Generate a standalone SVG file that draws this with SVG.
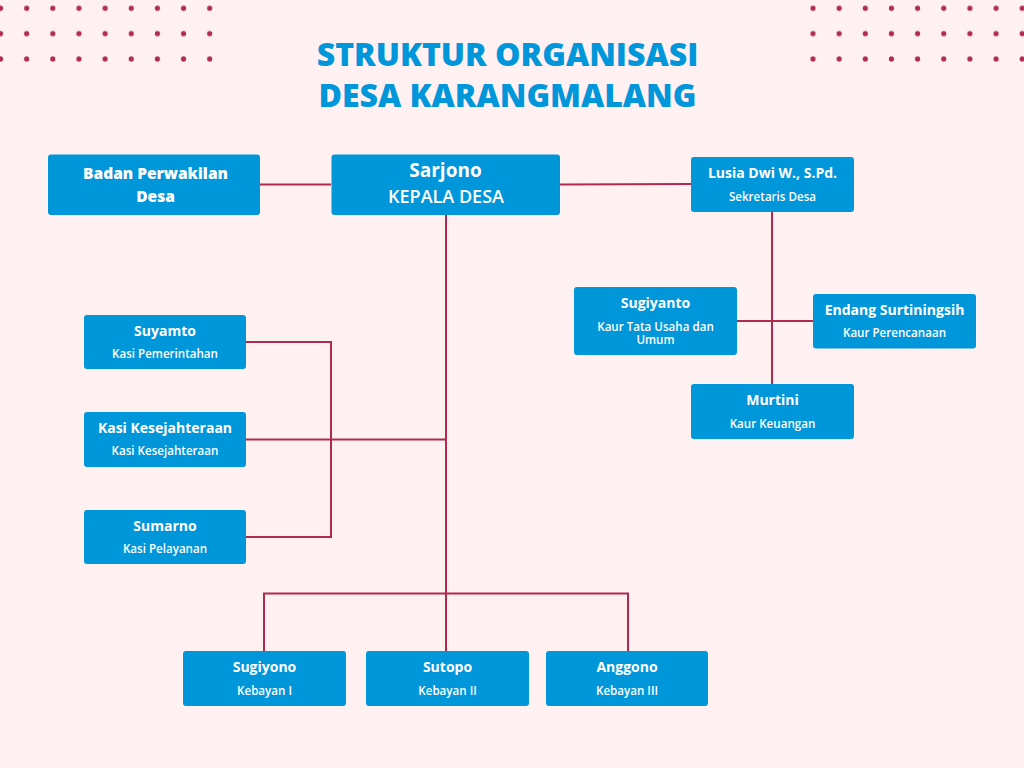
<svg xmlns="http://www.w3.org/2000/svg" width="1024" height="768" viewBox="0 0 1024 768">
<defs>
<pattern id="dots" x="-12.575" y="-4.375" width="26.15" height="25.35" patternUnits="userSpaceOnUse">
<circle cx="13.075" cy="12.675" r="2.6" fill="#B02A52"/>
</pattern>
<style>
.box{fill:#0096DA;}
.n{font-family:"Open Sans","Noto Sans",sans-serif;font-weight:700;font-size:14px;fill:#ffffff;text-anchor:middle;}
.s{font-family:"Open Sans","Noto Sans",sans-serif;font-weight:600;font-size:11.6px;fill:#ffffff;text-anchor:middle;}
.t{font-family:"Open Sans","Noto Sans",sans-serif;font-weight:800;font-size:32px;fill:#0096DA;text-anchor:middle;}
.c{fill:none;stroke:#B0294F;stroke-width:2;}
</style>
</defs>
<rect width="1024" height="768" fill="#FFF1F1"/>
<g id="dots-left">
<rect x="-12.575" y="-4.375" width="235.35" height="76.05" fill="url(#dots)"/>
</g>
<g id="dots-right" transform="translate(812.5,0)">
<rect x="-12.575" y="-4.375" width="235.35" height="76.05" fill="url(#dots)"/>
</g>
<g id="title">
<text class="t" x="507.5" y="65.5">STRUKTUR ORGANISASI</text>
<text class="t" x="507.5" y="106.5">DESA KARANGMALANG</text>
</g>
<g id="connectors">
<line class="c" x1="260" y1="184.5" x2="331" y2="184.5"/>
<line class="c" x1="560" y1="184.5" x2="691" y2="184"/>
<line class="c" x1="446" y1="215" x2="446" y2="651"/>
<polyline class="c" points="246,342 331,342 331,537 246,537"/>
<line class="c" x1="246" y1="439.5" x2="446" y2="439.5"/>
<polyline class="c" points="264,651 264,593.5 628,593.5 628,651"/>
<line class="c" x1="772" y1="212" x2="772" y2="384"/>
<line class="c" x1="737" y1="321" x2="813" y2="321"/>
</g>
<g id="node-bpd">
<rect class="box" x="48" y="154.5" width="212" height="60.5" rx="3"/>
<text class="n" x="155.5" y="179.3" style="font-size:15.5px;font-weight:800">Badan Perwakilan</text>
<text class="n" x="155.5" y="201.7" style="font-size:15.5px;font-weight:800">Desa</text>
</g>
<g id="node-kades">
<rect class="box" x="331.5" y="154.5" width="228.5" height="60.5" rx="3"/>
<text class="n" x="445.5" y="177.3" style="font-size:19px">Sarjono</text>
<text class="s" x="446" y="203.3" style="font-size:18px">KEPALA DESA</text>
</g>
<g id="node-sekdes">
<rect class="box" x="691" y="157" width="163" height="55" rx="3"/>
<text class="n" x="772.5" y="178">Lusia Dwi W., S.Pd.</text>
<text class="s" x="772.5" y="201">Sekretaris Desa</text>
</g>
<g id="node-sugiyanto">
<rect class="box" x="574" y="287" width="163" height="68" rx="3"/>
<text class="n" x="655.5" y="308">Sugiyanto</text>
<text class="s" x="655.5" y="331">Kaur Tata Usaha dan</text>
<text class="s" x="655.5" y="344">Umum</text>
</g>
<g id="node-endang">
<rect class="box" x="813" y="294" width="163" height="54.5" rx="3"/>
<text class="n" x="894.5" y="315">Endang Surtiningsih</text>
<text class="s" x="894.5" y="337">Kaur Perencanaan</text>
</g>
<g id="node-murtini">
<rect class="box" x="691" y="384" width="163" height="55" rx="3"/>
<text class="n" x="772.5" y="405">Murtini</text>
<text class="s" x="772.5" y="428">Kaur Keuangan</text>
</g>
<g id="node-suyamto">
<rect class="box" x="84" y="315" width="162" height="54" rx="3"/>
<text class="n" x="165" y="336">Suyamto</text>
<text class="s" x="165" y="358">Kasi Pemerintahan</text>
</g>
<g id="node-kesejahteraan">
<rect class="box" x="84" y="412" width="162" height="55" rx="3"/>
<text class="n" x="165" y="433">Kasi Kesejahteraan</text>
<text class="s" x="165" y="455">Kasi Kesejahteraan</text>
</g>
<g id="node-sumarno">
<rect class="box" x="84" y="510" width="162" height="54" rx="3"/>
<text class="n" x="165" y="531">Sumarno</text>
<text class="s" x="165" y="553">Kasi Pelayanan</text>
</g>
<g id="node-sugiyono">
<rect class="box" x="183" y="651" width="163" height="55" rx="3"/>
<text class="n" x="264.5" y="672">Sugiyono</text>
<text class="s" x="264.5" y="695">Kebayan I</text>
</g>
<g id="node-sutopo">
<rect class="box" x="366" y="651" width="163" height="55" rx="3"/>
<text class="n" x="447.5" y="672">Sutopo</text>
<text class="s" x="447.5" y="695">Kebayan II</text>
</g>
<g id="node-anggono">
<rect class="box" x="546" y="651" width="162" height="55" rx="3"/>
<text class="n" x="627" y="672">Anggono</text>
<text class="s" x="627" y="695">Kebayan III</text>
</g>
</svg>
